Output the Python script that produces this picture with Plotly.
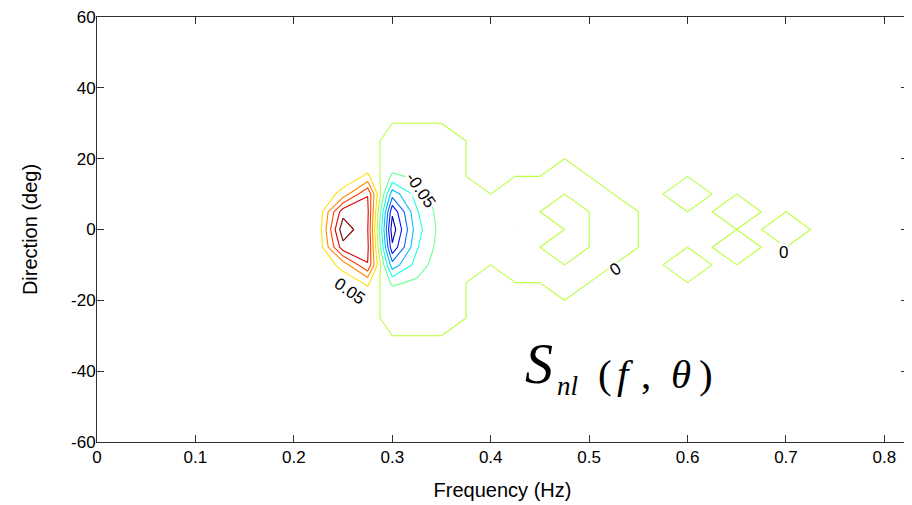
import numpy as np
import plotly.graph_objects as go

# ---------------- data ----------------
freq = [0.2, 0.225, 0.25, 0.275, 0.3, 0.325, 0.35, 0.375, 0.4, 0.425, 0.45, 0.475,
        0.5, 0.525, 0.55, 0.575, 0.6, 0.625, 0.65, 0.675, 0.7, 0.725, 0.75]
direction = [-35, -30, -25, -20, -15, -10, -5, 0, 5, 10, 15, 20, 25, 30, 35]

# Snl(f, theta) estimated on the grid (rows = direction, cols = frequency)
snl = [
    [0, 0, 0, 0, 0, 0, 0, 0, 0, 0, 0, 0, 0, 0, 0, 0, 0, 0, 0, 0, 0, 0, 0],                                   # -35
    [0, 0, 0, 0, 0, 0, 0, 0, 0, 0, 0, 0, 0, 0, 0, 0, 0, 0, 0, 0, 0, 0, 0],                                   # -30
    [0, 0, 0, 0.004, -0.004, -0.004, -0.002, 0, 0, 0, 0, 0, 0, 0, 0, 0, 0, 0, 0, 0, 0, 0, 0],                # -25
    [0, 0, 0.004, 0.012, -0.012, -0.01, -0.004, 0, 0, 0, 0, 0, 0, 0, 0, 0, 0, 0, 0, 0, 0, 0, 0],             # -20
    [0, 0, 0.015, 0.06, -0.06, -0.04, -0.008, 0, 0, 0, 0, -0.001, 0, 0, 0, 0, 0, 0, 0, 0, 0, 0, 0],          # -15
    [0, 0.005, 0.07, 0.198, -0.18, -0.08, -0.015, -0.003, 0, -0.001, -0.001, 0, -0.001, 0, 0, 0, -0.001, 0, 0, 0, 0, 0, 0],  # -10
    [0, 0.015, 0.23, 0.212, -0.29, -0.105, -0.025, -0.005, -0.002, -0.001, 0, 0, 0, -0.001, 0, 0, 0, 0, -0.001, 0, 0, 0, 0],  # -5
    [0, 0.018, 0.286, 0.203, -0.33, -0.12, -0.03, -0.006, -0.003, 0, -0.001, 0, 0, -0.001, 0, 0, 0, 0, 0, 0, -0.001, 0, 0],  # 0
    [0, 0.015, 0.23, 0.212, -0.29, -0.105, -0.025, -0.005, -0.002, -0.001, 0, 0, 0, -0.001, 0, 0, 0, 0, -0.001, 0, 0, 0, 0],  # 5
    [0, 0.005, 0.07, 0.198, -0.18, -0.08, -0.015, -0.003, 0, -0.001, -0.001, 0, -0.001, 0, 0, 0, -0.001, 0, 0, 0, 0, 0, 0],  # 10
    [0, 0, 0.015, 0.06, -0.06, -0.04, -0.008, 0, 0, 0, 0, -0.001, 0, 0, 0, 0, 0, 0, 0, 0, 0, 0, 0],          # 15
    [0, 0, 0.004, 0.012, -0.012, -0.01, -0.004, 0, 0, 0, 0, 0, 0, 0, 0, 0, 0, 0, 0, 0, 0, 0, 0],             # 20
    [0, 0, 0, 0.004, -0.004, -0.004, -0.002, 0, 0, 0, 0, 0, 0, 0, 0, 0, 0, 0, 0, 0, 0, 0, 0],                # 25
    [0, 0, 0, 0, 0, 0, 0, 0, 0, 0, 0, 0, 0, 0, 0, 0, 0, 0, 0, 0, 0, 0, 0],                                   # 30
    [0, 0, 0, 0, 0, 0, 0, 0, 0, 0, 0, 0, 0, 0, 0, 0, 0, 0, 0, 0, 0, 0, 0],                                   # 35
]

level_start, level_end, level_step = -0.30, 0.25, 0.05
level_colors = ['#0000b0', '#0010ff', '#006aff', '#00bdff', '#1affe6', '#6bff94',
                '#b8ff40', '#ffe000', '#ff8a00', '#ff4000', '#dc0000', '#800000']

x_ticks = [0, 0.1, 0.2, 0.3, 0.4, 0.5, 0.6, 0.7, 0.8]
x_ticktext = ['0', '0.1', '0.2', '0.3', '0.4', '0.5', '0.6', '0.7', '0.8']
y_ticks = [-60, -40, -20, 0, 20, 40, 60]
y_ticktext = ['-60', '-40', '-20', '0', '20', '40', '60']

# contour labels: (text, f, theta, angle)
contour_labels = [('0.05', 0.257, -17.5, 35), ('-0.05', 0.329, 11.0, 55),
                  ('0', 0.5264, -11.4, -35), ('0', 0.698, -6.4, 0)]

# ---------------- figure ----------------
# zero-valued points count as "above" level 0 (MATLAB convention): tiny tie-break offset
z_plot = np.array(snl, dtype=float) + 1e-6
cscale = [[i / (len(level_colors) - 1), c] for i, c in enumerate(level_colors)]

fig = go.Figure()
fig.add_trace(go.Contour(
    x=freq, y=direction, z=z_plot,
    autocontour=False,
    contours=dict(start=level_start, end=level_end, size=level_step, coloring='lines'),
    colorscale=cscale, showscale=False,
    line=dict(width=1.1, smoothing=0),
    hoverinfo='skip',
))

font_sans = 'Liberation Sans, Arial, sans-serif'
font_serif = 'Liberation Serif, Times New Roman, serif'
axis_col = '#303030'

annotations = []
for txt, fx, fy, ang in contour_labels:
    annotations.append(dict(x=fx, y=fy, xref='x', yref='y', text=txt, showarrow=False,
                            textangle=ang, font=dict(family=font_sans, size=17, color='black'),
                            bgcolor='white', borderpad=0))

# formula S_nl(f, theta)
formula = [
    ('<i>S</i>', 0.5456, 0.1835, 56),
    ('<i>nl</i>', 0.5800, 0.1318, 27),
    ('(', 0.6264, 0.1600, 41),
    ('<i>f</i>', 0.6517, 0.1600, 41),
    (',', 0.6775, 0.1600, 41),
    ('<i>θ</i>', 0.7201, 0.1600, 41),
    (')', 0.7515, 0.1600, 41),
]
for txt, px, py, sz in formula:
    annotations.append(dict(x=px, y=py, xref='paper', yref='paper', text=txt, showarrow=False,
                            xanchor='center', yanchor='middle',
                            font=dict(family=font_serif, size=sz, color='black')))

# the page body has an 8px margin, so the figure is sized/placed to compensate
fig.update_layout(
    width=904, height=497,
    margin=dict(l=89, r=4, t=9, b=63, autoexpand=False),
    paper_bgcolor='white', plot_bgcolor='white',
    showlegend=False,
    font=dict(family=font_sans, size=17, color='black'),
    annotations=annotations,
    xaxis=dict(range=[0, 0.824], tickvals=x_ticks, ticktext=x_ticktext,
               ticks='inside', ticklen=7, tickcolor=axis_col, showline=True,
               linecolor=axis_col, linewidth=1, mirror='ticks', showgrid=False,
               zeroline=False, automargin=False, ticklabeloverflow='allow',
               title=dict(text='Frequency (Hz)', standoff=16),
               tickfont=dict(size=17)),
    yaxis=dict(range=[-60, 60], tickvals=y_ticks, ticktext=y_ticktext,
               ticks='inside', ticklen=7, tickcolor=axis_col, showline=True,
               linecolor=axis_col, linewidth=1, mirror='ticks', showgrid=False,
               zeroline=False, automargin=False, ticklabeloverflow='allow',
               ticklabelstandoff=-3,
               title=dict(text='Direction (deg)', standoff=28),
               tickfont=dict(size=17)),
)

fig.write_html('out.html')
